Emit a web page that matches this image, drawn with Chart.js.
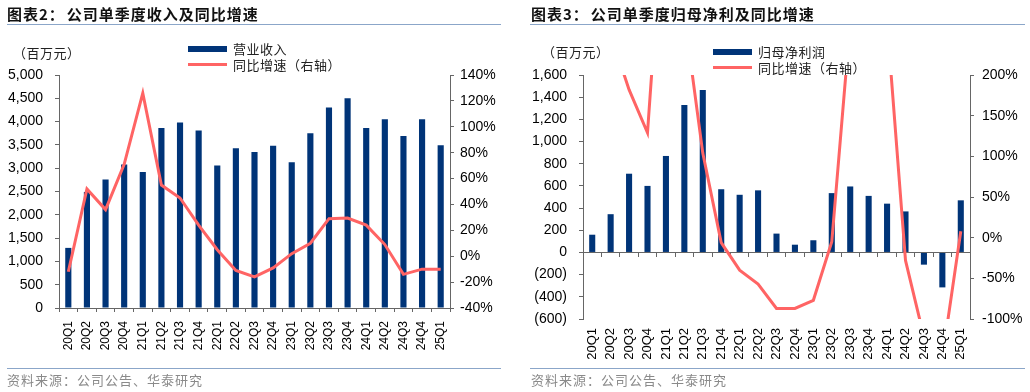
<!DOCTYPE html>
<html>
<head>
<meta charset="utf-8">
<script src="https://cdn.jsdelivr.net/npm/chart.js@4/dist/chart.umd.min.js"></script>
<style>
  body   { margin: 0; width: 1030px; height: 392px; background: #fff; position: relative; overflow: hidden;
           font-family: "Noto Sans CJK SC", "Noto Sans", sans-serif }
  .panel { position: absolute; top: 0; width: 515px; height: 392px }
  .panel canvas { position: absolute; left: 0; top: 0 }
  .title { position: absolute; top: 4px; font-size: 15px; line-height: 20px; font-weight: bold; color: #111;
           letter-spacing: 1px; white-space: nowrap; z-index: 2 }
  .title span { margin-left: 2px }
  .rule  { position: absolute; height: 1px; background: #8BA6C9; z-index: 2 }
  .unit  { position: absolute; top: 44px; font-size: 13px; line-height: 18px; letter-spacing: 0.5px; color: #222; z-index: 2 }
  .legend { position: absolute; z-index: 2; font-size: 13px; color: #222; letter-spacing: 0.5px }
  .legend .item { position: absolute; left: 0; white-space: nowrap; height: 18px; line-height: 18px }
  .legend .swatch { position: absolute; left: 0; width: 39px }
  .legend .bar  { top: 6px; height: 6px }
  .legend .line { top: 7px; height: 3px }
  .legend .label { position: absolute; left: 45px; top: 0 }
  .source { position: absolute; top: 371px; font-size: 13px; line-height: 18px; color: #8a8a8a;
            letter-spacing: 1px; white-space: nowrap; z-index: 2 }
</style>
</head>
<body>

<div class="panel" style="left:0">
  <canvas id="revenueChart"></canvas>
  <div class="title" style="left:7px">图表2：<span>公司单季度收入及同比增速</span></div>
  <div class="rule"  style="left:7px; top:24px; width:494px"></div>
  <div class="unit"  style="left:13px">（百万元）</div>
  <div class="legend" style="left:188px; top:40px">
    <div class="item" style="top:0"><div class="swatch bar" id="revenueBarSwatch"></div><div class="label">营业收入</div></div>
    <div class="item" style="top:16px"><div class="swatch line" id="revenueLineSwatch"></div><div class="label">同比增速（右轴）</div></div>
  </div>
  <div class="rule"   style="left:7px; top:368px; width:494px"></div>
  <div class="source" style="left:7px">资料来源：公司公告、华泰研究</div>
</div>

<div class="panel" style="left:515px">
  <canvas id="profitChart"></canvas>
  <div class="title" style="left:16px">图表3：<span>公司单季度归母净利及同比增速</span></div>
  <div class="rule"  style="left:15px; top:24px; width:495px"></div>
  <div class="unit"  style="left:27px; top:43px">（百万元）</div>
  <div class="legend" style="left:198px; top:43px">
    <div class="item" style="top:0"><div class="swatch bar" id="profitBarSwatch"></div><div class="label">归母净利润</div></div>
    <div class="item" style="top:16px"><div class="swatch line" id="profitLineSwatch"></div><div class="label">同比增速（右轴）</div></div>
  </div>
  <div class="rule"   style="left:15px; top:368px; width:495px"></div>
  <div class="source" style="left:16px">资料来源：公司公告、华泰研究</div>
</div>

<script>
// Quarterly revenue / net profit with YoY growth

const quarters = ['20Q1', '20Q2', '20Q3', '20Q4', '21Q1', '21Q2', '21Q3', '21Q4', '22Q1', '22Q2', '22Q3',
                  '22Q4', '23Q1', '23Q2', '23Q3', '23Q4', '24Q1', '24Q2', '24Q3', '24Q4', '25Q1']

// 百万元
const revenue    = [1290, 2490, 2760, 3080, 2920, 3860, 3980, 3810, 3060, 3430, 3350,
                    3480, 3130, 3750, 4300, 4500, 3860, 4050, 3690, 4050, 3490]
// %
const revenueYoy = [-12, 52, 36, 71, 126, 55, 45, 24, 5, -11, -16,
                    -9, 2, 10, 29, 29.5, 24, 9, -14, -10, -10]

// 百万元
const netProfit    = [160, 345, 710, 600, 870, 1330, 1465, 570, 520, 560, 170,
                      70, 110, 535, 595, 510, 440, 370, -110, -315, 470]
// %, points above 200% / below -100% run off the plot
const netProfitYoy = [null, 250, 182, 129, 450, 274, 104, -6, -40, -57, -87,
                      -87, -77, -5, 265, 600, 265, -28, -122, -148, 8]

const BAR_COLOR  = '#003478'
const LINE_COLOR = '#FF6464'
const AXIS_COLOR = '#666666'

Chart.defaults.font.family = '"Liberation Sans", Arial, sans-serif'
Chart.defaults.font.size   = 14
Chart.defaults.color       = '#000'

document.querySelectorAll('.legend .bar').forEach(el  => el.style.background = BAR_COLOR)
document.querySelectorAll('.legend .line').forEach(el => el.style.background = LINE_COLOR)

// --- helpers ---

function numberTick(v)
{
  const s = Math.abs(v).toLocaleString('en-US')
  return v < 0 ? `(${s})` : s
}

function percentTick(v)
{
  return v + '%'
}

function valueAxis(position, min, max, step, width, padding, fmt)
{
  return {
    position: position,
    min:      min,
    max:      max,
    ticks:    { stepSize: step, padding: padding, autoSkip: false, callback: fmt },
    grid:     { drawOnChartArea: false, drawTicks: true, tickLength: 4, color: AXIS_COLOR },
    border:   { color: AXIS_COLOR },
    afterFit: scale => { scale.width = width }
  }
}

function datasets(bars, barLabel, yoy)
{
  return [
    {
      type:        'line',
      label:       '同比增速（右轴）',
      data:        yoy,
      yAxisID:     'y1',
      borderColor: LINE_COLOR,
      borderWidth: 3,
      pointRadius: 0,
      tension:     0,
      order:       0
    },
    {
      type:               'bar',
      label:              barLabel,
      data:               bars,
      yAxisID:            'y',
      backgroundColor:    BAR_COLOR,
      barPercentage:      0.33,
      categoryPercentage: 1,
      order:              1
    }
  ]
}

const baseOptions = {
  responsive:          true,
  maintainAspectRatio: false,
  animation:           false,
  plugins:             { legend: { display: false }, tooltip: { enabled: false } }
}

// Chart 2: revenue
new Chart(document.getElementById('revenueChart'), {
  type: 'bar',
  data: { labels: quarters, datasets: datasets(revenue, '营业收入', revenueYoy) },
  options: {
    ...baseOptions,
    layout: { padding: { top: 75, left: 0, right: 0, bottom: 0 } },
    scales: {
      x: {
        offset:   true,
        grid:     { offset: true, drawOnChartArea: false, tickLength: 4, color: AXIS_COLOR },
        border:   { color: AXIS_COLOR },
        ticks:    { autoSkip: false, maxRotation: 90, minRotation: 90, padding: 9, font: { size: 12 } },
        afterFit: scale => { scale.height = 84 }
      },
      y:  valueAxis('left',  0,   5000, 500, 59, 12, numberTick),
      y1: valueAxis('right', -40, 140,  20,  65, 6,  percentTick)
    }
  }
})

// Chart 3: net profit, x ticks sit on the zero line, labels at the bottom
new Chart(document.getElementById('profitChart'), {
  type: 'bar',
  data: { labels: quarters, datasets: datasets(netProfit, '归母净利润', netProfitYoy) },
  options: {
    ...baseOptions,
    layout: { padding: { top: 75, left: 0, right: 0, bottom: 0 } },
    scales: {
      x: {
        offset:   true,
        grid:     { display: false, drawTicks: false },
        border:   { display: false },
        ticks:    { autoSkip: false, maxRotation: 90, minRotation: 90, padding: 9, font: { size: 13 } },
        afterFit: scale => { scale.height = 73 }
      },
      xZero: {
        type:     'category',
        position: { y: 0 },
        offset:   true,
        grid:     { offset: true, drawOnChartArea: false, tickLength: 4, color: AXIS_COLOR },
        border:   { color: AXIS_COLOR },
        ticks:    { display: false }
      },
      y:  valueAxis('left',  -600, 1600, 200, 68, 12, numberTick),
      y1: valueAxis('right', -100, 200,  50,  60, 8,  percentTick)
    }
  }
})
</script>
</body>
</html>
